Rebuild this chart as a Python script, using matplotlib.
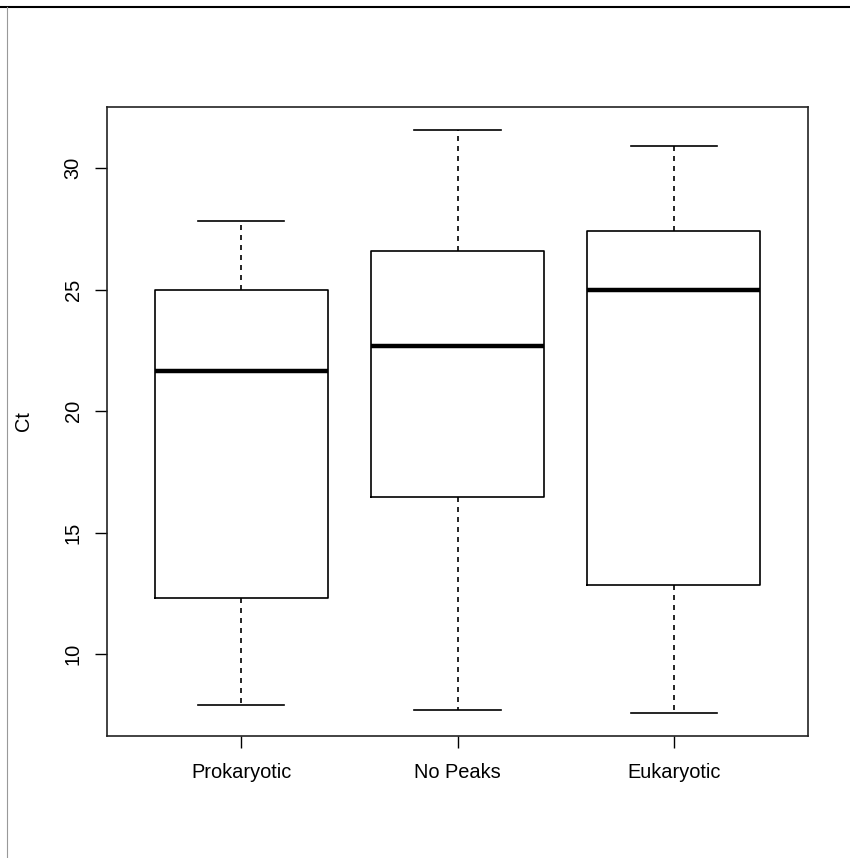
import matplotlib
matplotlib.use("Agg")
import matplotlib.pyplot as plt
from matplotlib.lines import Line2D

# values
categories = ["Prokaryotic", "No Peaks", "Eukaryotic"]
whisker_low = [7.9, 7.7, 7.6]
q1 = [12.3, 16.45, 12.85]
medians = [21.65, 22.67, 25.0]
q3 = [25.0, 26.6, 27.4]
whisker_high = [27.8, 31.55, 30.9]

plt.rcParams['font.family'] = ['Liberation Sans', 'DejaVu Sans']

fig = plt.figure(figsize=(8.5, 8.58), dpi=100)
ax = fig.add_axes([107/850, (858-736)/858, 701/850, 629/858])

stats = []
for i in range(len(categories)):
    stats.append({
        "whislo": whisker_low[i], "q1": q1[i], "med": medians[i],
        "q3": q3[i], "whishi": whisker_high[i], "fliers": [],
    })

lw = 1.2
ax.bxp(stats, positions=[1, 2, 3], widths=0.8, showfliers=False,
       boxprops=dict(color="black", linewidth=lw),
       medianprops=dict(color="black", linewidth=3.2, solid_capstyle="butt"),
       whiskerprops=dict(color="black", linewidth=lw, linestyle=(0, (3, 3))),
       capprops=dict(color="black", linewidth=lw),
       capwidths=0.4)

# R style axis limits
lo, hi = min(whisker_low), max(whisker_high)
ext = (hi - lo) * 0.04
ax.set_ylim(lo - ext, hi + ext)
ax.set_xlim(0.5 - 0.12, 3.5 + 0.12)

ax.set_xticks([1, 2, 3])
ax.set_xticklabels(categories)
ax.set_yticks([10, 15, 20, 25, 30])
ax.set_yticklabels(["10", "15", "20", "25", "30"], rotation=90, va="center")
ax.tick_params(axis="both", direction="out", length=8.6, width=1.0,
               labelsize=14.4, colors="black")
ax.tick_params(axis="x", pad=11)
ax.tick_params(axis="y", pad=9)
ax.set_ylabel("Ct", fontsize=14.4, labelpad=22)
for sp in ax.spines.values():
    sp.set_linewidth(1.2)
    sp.set_color("#222222")

# image border lines
fig.add_artist(Line2D([0, 1], [1 - 7/858, 1 - 7/858], color="black", linewidth=1.5,
                      transform=fig.transFigure))
fig.add_artist(Line2D([7/850, 7/850], [0, 1 - 7/858], color="#999999", linewidth=0.8,
                      transform=fig.transFigure))

fig.savefig("out.png", dpi=100)
